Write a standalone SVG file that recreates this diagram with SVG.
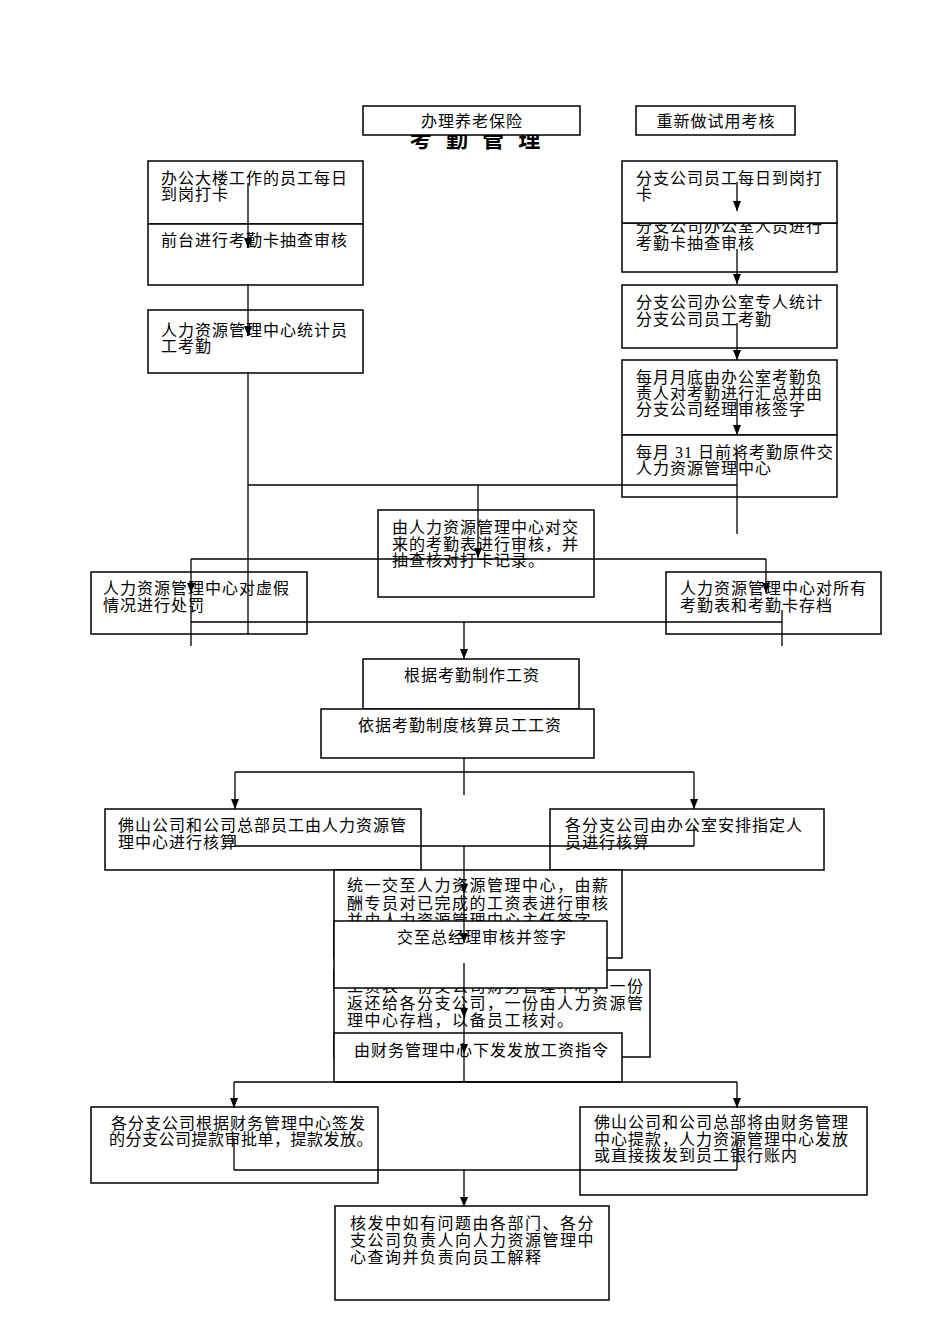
<svg xmlns="http://www.w3.org/2000/svg" width="950" height="1344" viewBox="0 0 950 1344">
<style>
.bg{fill:#ffffff}
.box{fill:#ffffff;stroke:#000000;stroke-width:1.5}
.t{font-family:"Liberation Serif","Noto Sans CJK SC",serif;font-size:16px;letter-spacing:1px;fill:#000000}
.tw{letter-spacing:1.5px}
.c{text-anchor:middle}
.title{font-family:"Liberation Sans","Noto Sans CJK SC",sans-serif;font-size:22px;font-weight:bold;letter-spacing:4px;fill:#000000;text-anchor:middle}
.ln{fill:none;stroke:#000000;stroke-width:1.3}
.ar{fill:none;stroke:#000000;stroke-width:1.3;marker-end:url(#ah)}
</style>
<defs>
<marker id="ah" viewBox="0 0 10 8" refX="10" refY="4" markerWidth="10" markerHeight="8" markerUnits="userSpaceOnUse" orient="auto">
<path d="M0,0 L10,4 L0,8 z" fill="#000000"/>
</marker>
</defs>
<rect class="bg" x="0" y="0" width="950" height="1344"/>

<g id="title"><text class="title" x="477" y="147">考 勤 管 理</text></g>

<g id="n-yanglao"><rect class="box" x="363" y="106" width="217" height="29"/><text class="t c" x="472" y="127">办理养老保险</text></g>
<g id="n-shiyong"><rect class="box" x="636" y="106" width="159" height="29"/><text class="t c" x="716" y="127">重新做试用考核</text></g>

<g id="n-l1"><rect class="box" x="148" y="161" width="215" height="63"/><text class="t" x="161" y="184">办公大楼工作的员工每日</text><text class="t" x="161" y="199.5">到岗打卡</text></g>
<g id="n-l2"><rect class="box" x="148" y="224" width="215" height="61"/><text class="t" x="161" y="246">前台进行考勤卡抽查审核</text></g>
<g id="n-l3"><rect class="box" x="148" y="310" width="215" height="63"/><text class="t" x="161" y="336">人力资源管理中心统计员</text><text class="t" x="161" y="351.5">工考勤</text></g>

<g id="n-r2"><rect class="box" x="622" y="223" width="215" height="49"/><text class="t" x="636" y="231.5">分支公司办公室人员进行</text><text class="t" x="636" y="249">考勤卡抽查审核</text></g>
<g id="n-r1"><rect class="box" x="622" y="161" width="215" height="62"/><text class="t" x="636" y="184">分支公司员工每日到岗打</text><text class="t" x="636" y="199.5">卡</text></g>
<g id="n-r3"><rect class="box" x="622" y="285" width="215" height="63"/><text class="t" x="636" y="308">分支公司办公室专人统计</text><text class="t" x="636" y="324.5">分支公司员工考勤</text></g>
<g id="n-r4"><rect class="box" x="622" y="360" width="215" height="75"/><text class="t" x="636" y="383">每月月底由办公室考勤负</text><text class="t" x="636" y="399">责人对考勤进行汇总并由</text><text class="t" x="636" y="415">分支公司经理审核签字</text></g>
<g id="n-r5"><rect class="box" x="622" y="435" width="215" height="62"/><text class="t" x="636" y="458">每月 31 日前将考勤原件交</text><text class="t" x="636" y="474">人力资源管理中心</text></g>

<g id="n-m"><rect class="box" x="378" y="510" width="216" height="87"/><text class="t" x="392" y="533">由人力资源管理中心对交</text><text class="t" x="392" y="549.5">来的考勤表进行审核，并</text><text class="t" x="392" y="566">抽查核对打卡记录。</text></g>
<g id="n-lv"><rect class="box" x="91" y="572" width="216" height="62"/><text class="t" x="103" y="594">人力资源管理中心对虚假</text><text class="t" x="103" y="610.5">情况进行处罚</text></g>
<g id="n-rv"><rect class="box" x="666" y="572" width="215" height="62"/><text class="t" x="680" y="594">人力资源管理中心对所有</text><text class="t" x="680" y="610.5">考勤表和考勤卡存档</text></g>

<g id="n-w1"><rect class="box" x="363" y="659" width="216" height="50"/><text class="t c" x="472" y="681">根据考勤制作工资</text></g>
<g id="n-w2"><rect class="box" x="321" y="709" width="273" height="49"/><text class="t" x="358" y="731">依据考勤制度核算员工工资</text></g>

<g id="n-f1"><rect class="box" x="105" y="809" width="316" height="61"/><text class="t" x="118" y="831">佛山公司和公司总部员工由人力资源管</text><text class="t" x="118" y="847.5">理中心进行核算</text></g>
<g id="n-f2"><rect class="box" x="550" y="809" width="274" height="61"/><text class="t" x="565" y="831">各分支公司由办公室安排指定人</text><text class="t" x="565" y="847.5">员进行核算</text></g>

<g id="n-s1"><rect class="box" x="334" y="870" width="288" height="88"/><text class="t tw" x="347" y="891">统一交至人力资源管理中心，由薪</text><text class="t tw" x="347" y="909">酬专员对已完成的工资表进行审核</text><text class="t tw" x="347" y="926">并由人力资源管理中心主任签字</text></g>
<g id="n-s3"><rect class="box" x="334" y="970" width="316" height="87"/><text class="t tw" x="347" y="992">工资表一份交公司财务管理中心，一份</text><text class="t tw" x="347" y="1009">返还给各分支公司，一份由人力资源管</text><text class="t tw" x="347" y="1026">理中心存档，以备员工核对。</text></g>
<g id="n-s2"><rect class="box" x="334" y="921" width="273" height="67"/><text class="t c" x="482" y="943">交至总经理审核并签字</text></g>
<g id="n-s4"><rect class="box" x="334" y="1033" width="288" height="49"/><text class="t" x="354" y="1056">由财务管理中心下发发放工资指令</text></g>

<g id="n-p1"><rect class="box" x="91" y="1107" width="287" height="76"/><text class="t" x="111" y="1129">各分支公司根据财务管理中心签发</text><text class="t" x="109" y="1144.5" style="letter-spacing:0.5px">的分支公司提款审批单，提款发放。</text></g>
<g id="n-p2"><rect class="box" x="580" y="1107" width="287" height="88"/><text class="t" x="594" y="1128">佛山公司和公司总部将由财务管理</text><text class="t" x="594" y="1144.5">中心提款，人力资源管理中心发放</text><text class="t" x="594" y="1161">或直接拨发到员工银行账内</text></g>
<g id="n-q"><rect class="box" x="335" y="1206" width="274" height="94"/><text class="t tw" x="350" y="1229">核发中如有问题由各部门、各分</text><text class="t tw" x="350" y="1246">支公司负责人向人力资源管理中</text><text class="t tw" x="350" y="1263">心查询并负责向员工解释</text></g>

<g id="connectors">
<line class="ar" x1="248" y1="183" x2="248" y2="248"/>
<line class="ar" x1="248" y1="285" x2="248" y2="336"/>
<line class="ln" x1="248" y1="373" x2="248" y2="634"/>
<line class="ar" x1="737" y1="182" x2="737" y2="211"/>
<line class="ar" x1="737" y1="249" x2="737" y2="284"/>
<line class="ar" x1="737" y1="323" x2="737" y2="360"/>
<line class="ar" x1="737" y1="398" x2="737" y2="435"/>
<line class="ln" x1="737" y1="449" x2="737" y2="534"/>
<line class="ln" x1="248" y1="485" x2="737" y2="485"/>
<line class="ar" x1="478" y1="485" x2="478" y2="558"/>
<line class="ln" x1="191" y1="559" x2="766" y2="559"/>
<line class="ar" x1="191" y1="559" x2="191" y2="593"/>
<line class="ln" x1="191" y1="593" x2="191" y2="646"/>
<line class="ar" x1="766" y1="559" x2="766" y2="593"/>
<line class="ln" x1="782" y1="610" x2="782" y2="646"/>
<line class="ln" x1="191" y1="622" x2="782" y2="622"/>
<line class="ar" x1="464" y1="622" x2="464" y2="659"/>
<line class="ln" x1="464" y1="758" x2="464" y2="795"/>
<line class="ln" x1="235" y1="772" x2="694" y2="772"/>
<line class="ar" x1="235" y1="772" x2="235" y2="809"/>
<line class="ar" x1="694" y1="772" x2="694" y2="809"/>
<line class="ln" x1="235" y1="835" x2="235" y2="846"/>
<line class="ln" x1="694" y1="825" x2="694" y2="846"/>
<line class="ln" x1="235" y1="846" x2="694" y2="846"/>
<line class="ar" x1="464" y1="846" x2="464" y2="894"/>
<line class="ar" x1="464" y1="894" x2="464" y2="943"/>
<line class="ar" x1="464" y1="963" x2="464" y2="1018"/>
<line class="ar" x1="464" y1="1018" x2="464" y2="1054"/>
<line class="ln" x1="464" y1="1054" x2="464" y2="1082"/>
<line class="ln" x1="234" y1="1082" x2="737" y2="1082"/>
<line class="ar" x1="234" y1="1082" x2="234" y2="1108"/>
<line class="ar" x1="737" y1="1082" x2="737" y2="1108"/>
<line class="ln" x1="234" y1="1138" x2="234" y2="1170"/>
<line class="ln" x1="737" y1="1140" x2="737" y2="1170"/>
<line class="ln" x1="234" y1="1170" x2="737" y2="1170"/>
<line class="ar" x1="464" y1="1170" x2="464" y2="1207"/>
</g>
</svg>
